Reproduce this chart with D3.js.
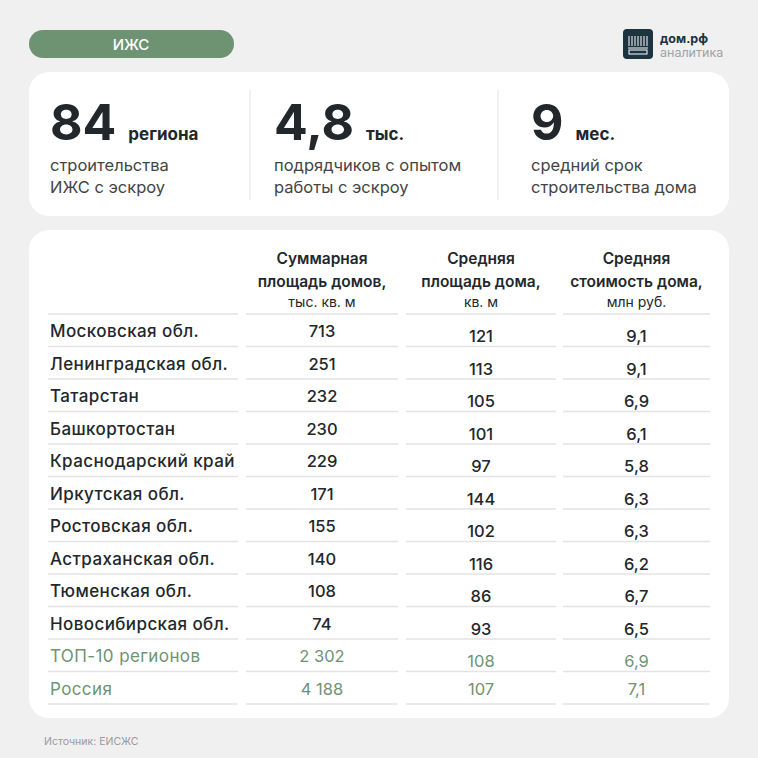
<!DOCTYPE html><html><head><meta charset="utf-8"><script src="https://cdn.jsdelivr.net/npm/d3@7"></script>
<style>body{margin:0;background:#f0f0f0}svg{display:block;font-family:Inter,"Noto Sans",sans-serif}</style></head><body><svg id="c" width="758" height="758"></svg>
<script>
const regions=["Московская обл.","Ленинградская обл.","Татарстан","Башкортостан","Краснодарский край","Иркутская обл.","Ростовская обл.","Астраханская обл.","Тюменская обл.","Новосибирская обл.","ТОП-10 регионов","Россия"];
const totalArea=["713","251","232","230","229","171","155","140","108","74","2 302","4 188"];
const avgArea=["121","113","105","101","97","144","102","116","86","93","108","107"];
const avgCost=["9,1","9,1","6,9","6,1","5,8","6,3","6,3","6,2","6,7","6,5","6,9","7,1"];
const headers=[["Суммарная","площадь домов,","тыс. кв. м"],["Средняя","площадь дома,","кв. м"],["Средняя","стоимость дома,","млн руб."]];
const kpis=[{v:"84",u:"региона",t:["строительства","ИЖС с эскроу"]},{v:"4,8",u:"тыс.",t:["подрядчиков с опытом","работы с эскроу"]},{v:"9",u:"мес.",t:["средний срок","строительства дома"]}];
const svg=d3.select("#c");
const green="#6e9373",dark="#22272b";
svg.append("rect").attr("width",758).attr("height",758).attr("fill","#f0f0f0");
svg.append("rect").attr("x",29).attr("y",30).attr("width",205).attr("height",28).attr("rx",14).attr("fill",green);
svg.append("text").attr("x",131).attr("y",50).attr("text-anchor","middle").attr("fill","#fff").attr("font-size",15).attr("font-weight",500).text("ИЖС");
svg.append("rect").attr("x",623).attr("y",29).attr("width",30).attr("height",30).attr("rx",4).attr("fill","#1c3340");
const lg=svg.append("g").attr("stroke","#fff").attr("stroke-width",1).attr("fill","none");
[629,632,635,638,641,644,647].forEach(x=>lg.append("line").attr("x1",x).attr("x2",x).attr("y1",36).attr("y2",46));
lg.append("line").attr("x1",628).attr("x2",648).attr("y1",48).attr("y2",48);
lg.append("rect").attr("x",629).attr("y",50).attr("width",18).attr("height",4);
svg.append("text").attr("x",660).attr("y",43).attr("font-size",12.5).attr("font-weight",700).attr("fill","#1c3340").text("дом.рф");
svg.append("text").attr("x",660).attr("y",57).attr("font-size",12.5).attr("fill","#9aa3a8").text("аналитика");
svg.append("rect").attr("x",29).attr("y",72).attr("width",700).attr("height",144).attr("rx",20).attr("fill","#fff");
[250,498].forEach(x=>svg.append("line").attr("x1",x).attr("x2",x).attr("y1",90).attr("y2",200).attr("stroke","#e2e2e2"));
const kx=[50,274,531];
kpis.forEach((k,i)=>{
 const t=svg.append("text").attr("x",kx[i]).attr("y",140).attr("fill",dark);
 t.append("tspan").attr("font-size",50).attr("font-weight",700).text(k.v);
 t.append("tspan").attr("dx",12).attr("font-size",17).attr("font-weight",700).text(k.u);
 k.t.forEach((l,j)=>svg.append("text").attr("x",kx[i]).attr("y",171+j*22).attr("font-size",16.5).attr("fill","#444").text(l));
});
svg.append("rect").attr("x",29).attr("y",230).attr("width",700).attr("height",488).attr("rx",20).attr("fill","#fff");
const cols=[{x0:48,x1:238},{x0:246,x1:398},{x0:406,x1:556},{x0:563,x1:710}];
const y=d3.scaleBand().domain(d3.range(regions.length)).range([314,704]);
headers.forEach((h,i)=>{const cx=(cols[i+1].x0+cols[i+1].x1)/2;
 h.forEach((l,j)=>svg.append("text").attr("x",cx).attr("y",[264,287,307][j]).attr("text-anchor","middle").attr("font-size",j<2?15.5:14).attr("font-weight",j<2?600:400).attr("fill",dark).text(l));});
const line=yy=>cols.forEach(c=>svg.append("line").attr("x1",c.x0).attr("x2",c.x1).attr("y1",yy).attr("y2",yy).attr("stroke","#e3e3e3").attr("stroke-width",1.5));
line(314);
regions.forEach((r,i)=>{
 const top=y(i),hl=i>=10,col=hl?green:dark,w=hl?400:500;
 line(top+y.bandwidth());
 svg.append("text").attr("x",50).attr("y",top+23).attr("font-size",17).attr("letter-spacing",0.4).attr("font-weight",w).attr("fill",col).text(r);
 const vals=[totalArea[i],avgArea[i],avgCost[i]];
 vals.forEach((v,j)=>{const c=cols[j+1];
  svg.append("text").attr("x",(c.x0+c.x1)/2).attr("y",top+(j===0||i===11?23:28)).attr("text-anchor","middle").attr("font-size",16.5).attr("font-weight",w).attr("fill",col).text(v);});
});
svg.append("text").attr("x",44).attr("y",745).attr("font-size",10.5).attr("fill","#9a9a9a").text("Источник: ЕИСЖС");
</script></body></html>
